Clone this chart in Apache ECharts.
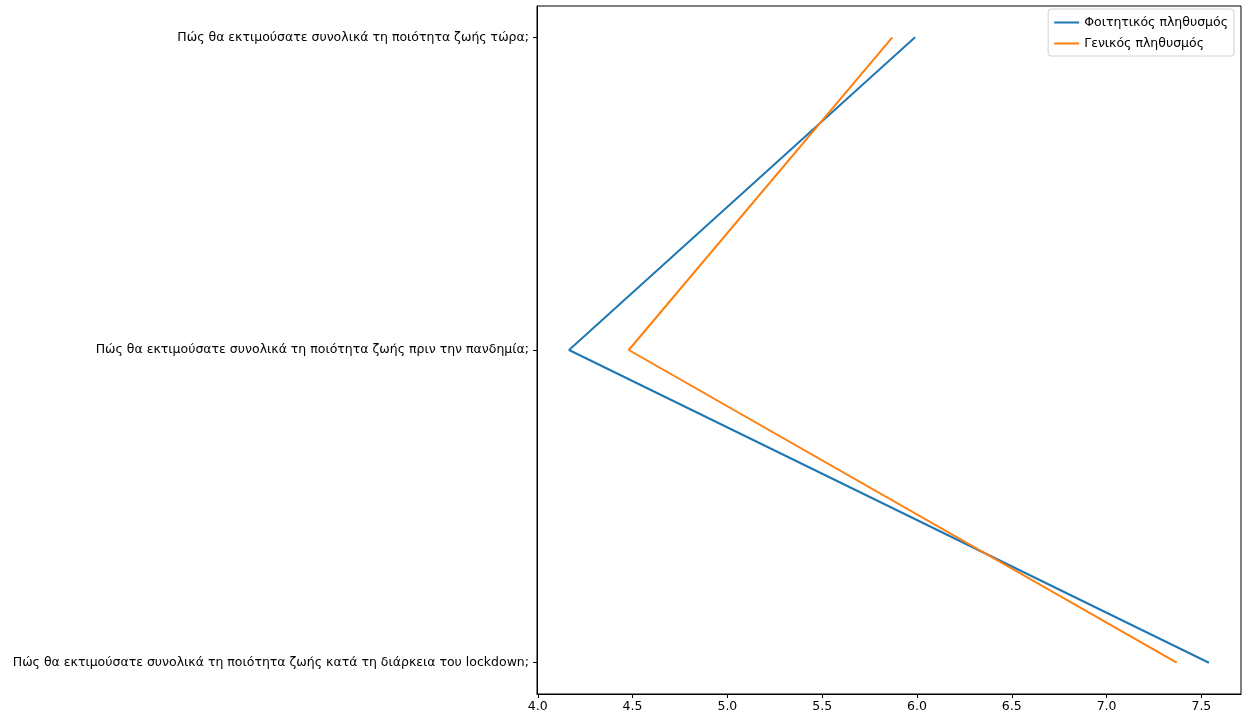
<!DOCTYPE html>
<html>
<head>
<meta charset="utf-8">
<script src="https://cdn.jsdelivr.net/npm/echarts@6/dist/echarts.min.js"></script>
<style>
html,body{margin:0;padding:0;background:#fff;}
#chart{width:1245px;height:719px;}
</style>
</head>
<body>
<div id="chart"></div>
<script>
// Categories, bottom to top
const categories = [
  "Πώς θα εκτιμούσατε συνολικά τη ποιότητα ζωής κατά τη διάρκεια του lockdown;",
  "Πώς θα εκτιμούσατε συνολικά τη ποιότητα ζωής πριν την πανδημία;",
  "Πώς θα εκτιμούσατε συνολικά τη ποιότητα ζωής τώρα;"
];
const seriesNames = ["Φοιτητικός πληθυσμός", "Γενικός πληθυσμός"];
const studentValues = [7.54, 4.165, 5.99];
const generalValues = [7.37, 4.48, 5.87];
const xTicks = [4.0, 4.5, 5.0, 5.5, 6.0, 6.5, 7.0, 7.5];
const yTicks = [0, 1, 2];

const toPoints = vals => vals.map((v, i) => [v, i]);
const font = 'DejaVu Sans';
const fs = 12.5;

const chart = echarts.init(document.getElementById('chart'), null, {renderer: 'canvas'});
chart.setOption({
  animation: false,
  backgroundColor: '#fff',
  grid: {left: 537, right: 4, top: 6, bottom: 25, show: true, borderColor: '#000', borderWidth: 1, backgroundColor: 'transparent'},
  legend: {
    orient: 'vertical', right: 11, top: 9,
    data: seriesNames,
    icon: 'rect', itemWidth: 25, itemHeight: 2, itemGap: 8,
    padding: [7, 6, 6, 6],
    borderColor: '#d0d0d0', borderWidth: 1, borderRadius: 3,
    textStyle: {fontFamily: font, fontSize: fs, color: '#000'}
  },
  xAxis: {
    type: 'value', min: 3.996, max: 7.709,
    splitLine: {show: false},
    axisLine: {show: true, onZero: false, lineStyle: {color: '#000'}},
    axisTick: {show: true, length: 4, customValues: xTicks, lineStyle: {color: '#000'}},
    axisLabel: {customValues: xTicks, formatter: v => v.toFixed(1), fontFamily: font, fontSize: fs, color: '#000', margin: 6}
  },
  yAxis: {
    type: 'value', min: -0.1, max: 2.1,
    splitLine: {show: false},
    axisLine: {show: true, onZero: false, lineStyle: {color: '#000'}},
    axisTick: {show: true, length: 4, customValues: yTicks, lineStyle: {color: '#000'}},
    axisLabel: {customValues: yTicks, formatter: v => categories[Math.round(v)], fontFamily: font, fontSize: fs, color: '#000', margin: 8}
  },
  series: [
    {name: seriesNames[0], type: 'line', data: toPoints(studentValues), showSymbol: false, symbol: 'none',
     lineStyle: {color: '#1f77b4', width: 2}, itemStyle: {color: '#1f77b4'}},
    {name: seriesNames[1], type: 'line', data: toPoints(generalValues), showSymbol: false, symbol: 'none',
     lineStyle: {color: '#ff7f0e', width: 2}, itemStyle: {color: '#ff7f0e'}}
  ]
});
</script>
</body>
</html>
